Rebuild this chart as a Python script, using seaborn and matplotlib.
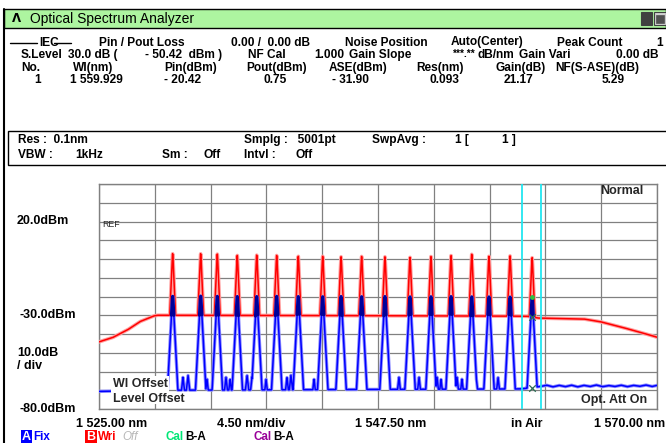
import numpy as np
import pandas as pd
import matplotlib
matplotlib.use("Agg")
import matplotlib.pyplot as plt
import seaborn as sns
from matplotlib import font_manager
from matplotlib.patches import Rectangle
from matplotlib.lines import Line2D

# ---------------- data ----------------
channel_nm = [1530.94, 1533.20, 1534.54, 1536.15, 1537.72, 1539.33, 1541.07, 1543.04, 1544.52,
              1546.18, 1548.06, 1550.08, 1551.77, 1553.39, 1555.06, 1556.45, 1558.15, 1559.93]
out_peak_dbm = [2.8, 2.8, 2.6, 1.9, 2.1, 1.9, 1.5, 1.5, 1.2, 1.4, 1.2, 0.9, 1.4, 1.9, 2.5, 1.5, 1.7, 0.7]
in_peak_dbm = [-19.9, -19.8, -19.9, -20.0, -20.0, -19.9, -20.0, -20.1, -20.0,
               -20.1, -20.0, -20.2, -20.1, -20.0, -20.2, -20.2, -20.3, -20.4]

out_floor_nm = [1525.0, 1526.1, 1527.3, 1528.3, 1529.4, 1529.7, 1545.0, 1559.5, 1560.4,
                1564.1, 1565.4, 1567.0, 1568.6, 1570.0]
out_floor_dbm = [-44.2, -41.9, -37.8, -33.4, -30.4, -30.0, -30.2, -30.5, -31.5,
                 -32.0, -33.4, -36.1, -39.0, -41.7]

in_floor_nm = [1525.0, 1530.0, 1545.0, 1559.0, 1560.6, 1561.1, 1561.6, 1562.1, 1562.6, 1563.1,
               1563.6, 1564.1, 1564.6, 1565.1, 1565.6, 1566.1, 1566.6, 1567.1, 1567.6, 1568.1,
               1568.6, 1569.1, 1569.6, 1570.0]
in_floor_dbm = [-70.6, -70.0, -69.6, -69.3, -68.0, -67.3, -68.2, -67.4, -68.1, -67.3,
                -68.2, -67.4, -68.0, -67.2, -68.1, -67.5, -68.0, -67.3, -68.1, -67.4,
                -67.9, -67.2, -68.0, -67.4]

bump_nm = [1531.77, 1532.18, 1533.71, 1535.24, 1535.57, 1536.94, 1537.34, 1538.47, 1540.16,
           1540.48, 1542.34, 1549.19, 1550.81, 1551.53, 1552.26, 1552.58, 1553.87, 1554.27,
           1555.40, 1557.18]
bump_dbm = [-63, -62, -64, -63, -64, -62, -63, -64, -63, -62, -64, -63, -63, -65, -63, -64,
            -63, -64, -62, -63]

# ---------------- style ----------------
sns.set_theme(style="white")
names = {f.name for f in font_manager.fontManager.ttflist}
NARROW = "Liberation Sans Narrow" if "Liberation Sans Narrow" in names else "Liberation Sans"
plt.rcParams["font.family"] = ["Liberation Sans", "DejaVu Sans"]

W, H = 666, 443
fig = plt.figure(figsize=(W / 100, H / 100), dpi=100)
fig.patch.set_facecolor("white")


def fx(x):
    return x / W


def fy(y):
    return 1 - y / H


def T(x, y, s, size=8.6, weight="bold", family=None, color="black", **kw):
    fam = [family or NARROW, "DejaVu Sans"]
    fig.text(fx(x), fy(y), s, ha=kw.pop("ha", "left"), va="center", fontsize=size,
             fontweight=weight, family=fam, color=color, **kw)


def R(x0, y0, x1, y1, fc="none", ec="black", lw=1.0, z=1):
    fig.patches.append(Rectangle((fx(x0), fy(y1)), (x1 - x0) / W, (y1 - y0) / H,
                                 transform=fig.transFigure, facecolor=fc, edgecolor=ec,
                                 linewidth=lw, zorder=z))


def L(x0, y0, x1, y1, color="black", lw=1.0):
    fig.lines.append(Line2D([fx(x0), fx(x1)], [fy(y0), fy(y1)], transform=fig.transFigure,
                            color=color, linewidth=lw))


# window frame and title bar
L(4, 9, 4, 443, lw=1.5)
R(4, 9, 666, 28, fc="#adf5a0", ec="black", lw=1.0)
T(12, 18.5, "Λ", size=8.5, weight="bold", family="DejaVu Sans")
T(30, 18.5, "Optical Spectrum Analyzer", size=10, weight="normal", family="Liberation Sans")
R(641, 12, 652, 25, fc="#404040", ec="#404040", lw=0.8, z=3)
L(643, 23, 649, 23, color="white", lw=1.2)
R(654, 12, 666, 25, fc="#d0d0d0", ec="#404040", lw=0.8, z=3)
R(656, 15, 664, 23, fc="#505050", ec="#505050", lw=0.5, z=4)

# header rows
L(10, 42.5, 37, 42.5)
T(39, 42.5, "IEC")
L(54, 42.5, 71, 42.5)
row1 = [(99, "Pin / Pout Loss"), (231, "0.00 /  0.00 dB"), (345, "Noise Position"),
        (451, "Auto(Center)"), (557, "Peak Count"), (656, "1")]
row2 = [(21, "S.Level"), (68, "30.0 dB ("), (145, "- 50.42  dBm )"), (248, "NF Cal"),
        (314, "1.000"), (349, "Gain Slope"), (478, "dB/nm"), (519, "Gain Vari"),
        (616, "0.00 dB")]
row3 = [(21, "No."), (73, "Wl(nm)"), (164, "Pin(dBm)"), (246, "Pout(dBm)"), (329, "ASE(dBm)"),
        (416, "Res(nm)"), (496, "Gain(dB)"), (555, "NF(S-ASE)(dB)")]
row4 = [(34, "1"), (70, "1 559.929"), (164, "- 20.42"), (263, "0.75"), (332, "- 31.90"),
        (429, "0.093"), (504, "21.17"), (602, "5.29")]
for yy, row in [(42.5, row1), (55, row2), (67.5, row3), (80, row4)]:
    for xx, s in row:
        T(xx, yy, s)
T(453, 54, "***.**", size=7.2)

# settings box
R(8, 131, 667, 165, ec="black", lw=1.0)
box1 = [(18, "Res :  0.1nm"), (244, "Smplg :   5001pt"), (372, "SwpAvg :"), (455, "1 ["), (502, "1 ]")]
box2 = [(18, "VBW :"), (75, "1kHz"), (162, "Sm :"), (203, "Off"), (244, "Intvl :"), (295, "Off")]
for xx, s in box1:
    T(xx, 140, s)
for xx, s in box2:
    T(xx, 154.5, s)

# ---------------- spectrum traces ----------------
lam = np.linspace(1525.0, 1570.0, 5001)
blue = np.interp(lam, in_floor_nm, in_floor_dbm)
for c, p in zip(channel_nm, in_peak_dbm):
    blue = np.maximum(blue, p + 125 * 0.02 - 125 * np.sqrt((lam - c) ** 2 + 0.02 ** 2))
for c, p in zip(bump_nm, bump_dbm):
    blue = np.maximum(blue, p - 60 * np.abs(lam - c))
red = np.interp(lam, out_floor_nm, out_floor_dbm)
for c, p in zip(channel_nm, out_peak_dbm):
    red = np.maximum(red, p + 150 * 0.015 - 150 * np.sqrt((lam - c) ** 2 + 0.015 ** 2))

df = pd.DataFrame({"nm": lam, "A": blue, "B": red})

ax = fig.add_axes([fx(99), fy(409), 558 / W, 225 / H])
ax.set_facecolor("white")
sns.lineplot(data=df, x="nm", y="B", ax=ax, color="#ffa0a0", linewidth=2.6, estimator=None, sort=False, zorder=3)
sns.lineplot(data=df, x="nm", y="B", ax=ax, color="#ff0000", linewidth=1.1, estimator=None, sort=False, zorder=4)
sns.lineplot(data=df, x="nm", y="A", ax=ax, color="#8c8cff", linewidth=2.4, estimator=None, sort=False, zorder=5)
sns.lineplot(data=df, x="nm", y="A", ax=ax, color="#0000ff", linewidth=1.1, estimator=None, sort=False, zorder=6)
for c in channel_nm:
    sub = df[(np.abs(df["nm"] - c) < 0.25) & (df["A"] > -30.5)]
    sns.lineplot(data=sub, x="nm", y="A", ax=ax, color="#00009a", linewidth=2.2,
                 estimator=None, sort=False, zorder=7)

ax.set_xlim(1525.0, 1570.0)
ax.set_ylim(-80, 40)
ax.set_xticks(np.arange(1525.0, 1570.01, 4.5))
ax.set_yticks(np.arange(-80, 40.1, 10))
ax.grid(True, color="#808080", linewidth=0.9, zorder=1)
ax.set_axisbelow(True)
ax.tick_params(length=0, labelbottom=False, labelleft=False)
ax.set_xlabel("")
ax.set_ylabel("")
for sp in ax.spines.values():
    sp.set_color("#808080")
    sp.set_linewidth(1.0)

# marker band and markers
ax.axvline(1559.12, color="#22e6f0", linewidth=1.3, zorder=8)
ax.axvline(1560.66, color="#22e6f0", linewidth=1.3, zorder=8)
ax.scatter([1559.93, 1559.93], [-31.0, -69.0], marker="x", s=22, color="#2d6e55", linewidth=0.9, zorder=9)
ax.scatter([1559.93], [-20.2], marker="o", s=6, color="#30c040", zorder=9)

# in-plot texts
PL = "Liberation Sans"
ax.text(1525.3, 18.2, "REF", fontsize=6.3, family=[PL], va="center", ha="left", zorder=10)
ax.text(1568.9, 36.0, "Normal", fontsize=9, fontweight="bold", family=[PL],
        va="center", ha="right", zorder=10)
ax.text(1569.2, -75.0, "Opt. Att On", fontsize=9, fontweight="bold", family=[PL],
        va="center", ha="right", zorder=10)
ax.add_patch(Rectangle((1526.0, -77.5), 4.65, 15.2, facecolor="white", edgecolor="none", zorder=9))
ax.text(1526.15, -66.9, "Wl Offset", fontsize=9, fontweight="bold", family=[PL],
        va="center", ha="left", zorder=10)
ax.text(1526.15, -74.9, "Level Offset", fontsize=9, fontweight="bold", family=[PL],
        va="center", ha="left", zorder=10)

# axis labels around the plot
T(17, 221, "20.0dBm", size=9, family=PL)
T(19, 315.5, "-30.0dBm", size=9, family=PL)
T(17, 353, "10.0dB", size=9, family=PL)
T(17, 366, "/ div", size=9, family=PL)
T(19, 409, "-80.0dBm", size=9, family=PL)

T(76, 424, "1 525.00 nm", size=9, family=PL)
T(217, 424, "4.50 nm/div", size=9, family=PL)
T(355, 424, "1 547.50 nm", size=9, family=PL)
T(511, 424, "in Air", size=9, family=PL)
T(594, 424, "1 570.00 nm", size=9, family=PL)

# trace legend
R(21, 430, 32, 443, fc="#0000ff", ec="none", z=3)
T(26.5, 437, "A", size=9, family=PL, color="white", ha="center")
T(33, 437.5, "Fix", size=8.4, family=PL, color="#0000ff")
R(85, 430, 97, 443, fc="#ff0000", ec="none", z=3)
T(91, 437, "B", size=9, family=PL, color="white", ha="center")
T(98, 437.5, "Wri", size=8.4, family=PL, color="#ff0000")
T(122, 437.5, "Off", size=8.4, family=PL, color="#b8b8b8", weight="normal", style="italic")
T(166, 437.5, "Cal", size=8.4, family=PL, color="#00e676")
T(185, 437.5, "B-A", size=8.4, family=PL)
T(253, 437.5, "Cal", size=8.4, family=PL, color="#990099")
T(273, 437.5, "B-A", size=8.4, family=PL)

fig.savefig("out.png", dpi=100, facecolor="white")
